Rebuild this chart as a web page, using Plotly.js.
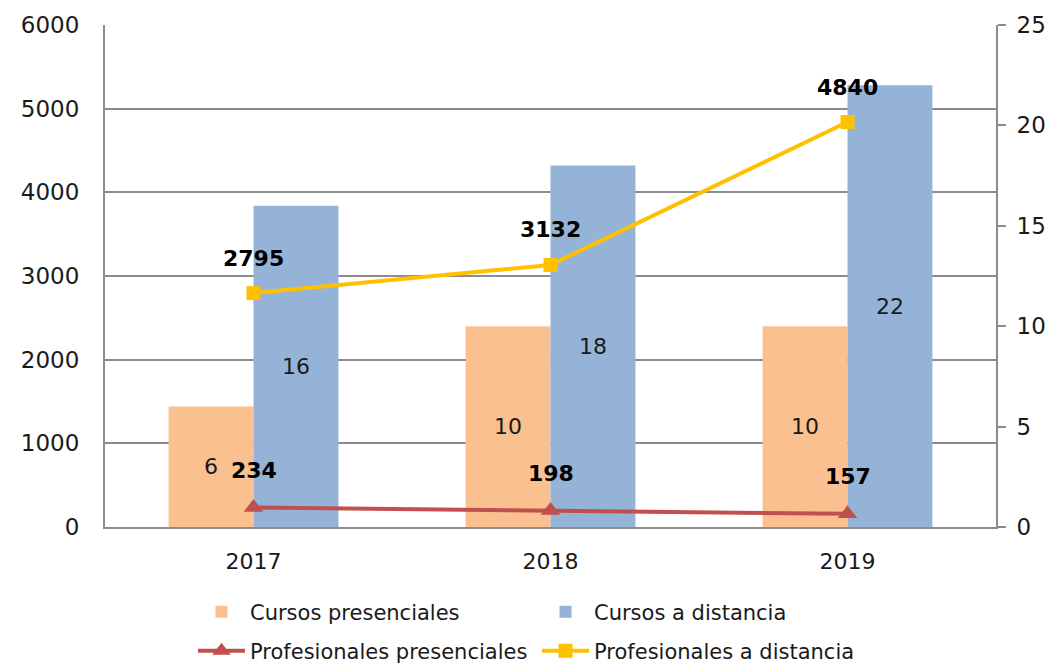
<!DOCTYPE html>
<html>
<head>
<meta charset="utf-8">
<script src="https://cdn.plot.ly/plotly-3.0.1.min.js"></script>
<style>html,body{margin:0;padding:0;background:#fff;}#chart{width:1052px;height:666px;}</style>
</head>
<body>
<div id="chart"></div>
<script>
const years = ['2017', '2018', '2019'];
const cursosPresenciales = [6, 10, 10];
const cursosDistancia = [16, 18, 22];
const profPresenciales = [234, 198, 157];
const profDistancia = [2795, 3132, 4840];

const FONT = 'DejaVu Sans';
const TXT = '#1a1a1a';
const GRID = '#8c8c8c';

const traces = [
  {
    type: 'bar', name: 'Cursos presenciales', x: years, y: cursosPresenciales,
    yaxis: 'y', marker: {color: '#FAC090'},
    text: cursosPresenciales.map(String), textposition: 'inside', insidetextanchor: 'middle',
    textangle: 0, constraintext: 'none', textfont: {family: FONT, size: 22, color: TXT},
    legend: 'legend', hoverinfo: 'none'
  },
  {
    type: 'bar', name: 'Cursos a distancia', x: years, y: cursosDistancia,
    yaxis: 'y', marker: {color: '#95B3D7'},
    text: cursosDistancia.map(String), textposition: 'inside', insidetextanchor: 'middle',
    textangle: 0, constraintext: 'none', textfont: {family: FONT, size: 22, color: TXT},
    legend: 'legend', hoverinfo: 'none'
  },
  {
    type: 'scatter', mode: 'lines+markers', name: 'Profesionales presenciales',
    x: years, y: profPresenciales, yaxis: 'y2',
    line: {color: '#C0504D', width: 4},
    marker: {symbol: 'triangle-up', size: 17, color: '#C0504D'},
    legend: 'legend2', hoverinfo: 'none'
  },
  {
    type: 'scatter', mode: 'lines+markers', name: 'Profesionales a distancia',
    x: years, y: profDistancia, yaxis: 'y2',
    line: {color: '#FFC000', width: 4},
    marker: {symbol: 'square', size: 14, color: '#FFC000'},
    legend: 'legend2', hoverinfo: 'none'
  }
];

const annotations = [];
years.forEach((yr, i) => {
  annotations.push({x: i, y: profPresenciales[i], xref: 'x', yref: 'y2', yshift: 37,
    text: '<b>' + profPresenciales[i] + '</b>', showarrow: false,
    font: {family: FONT, size: 22, color: '#000'}});
  annotations.push({x: i, y: profDistancia[i], xref: 'x', yref: 'y2', yshift: 35,
    text: '<b>' + profDistancia[i] + '</b>', showarrow: false,
    font: {family: FONT, size: 22, color: '#000'}});
});

const legendBase = {
  orientation: 'h', xref: 'container', yref: 'container',
  x: 193 / 1052, xanchor: 'left', yanchor: 'middle',
  itemwidth: 47, entrywidth: 282, entrywidthmode: 'pixels',
  font: {family: FONT, size: 21, color: TXT}, bgcolor: 'rgba(0,0,0,0)'
};

const layout = {
  width: 1052, height: 666,
  margin: {l: 105, r: 56, t: 25, b: 139, pad: 0},
  paper_bgcolor: '#fff', plot_bgcolor: '#fff',
  font: {family: FONT, size: 22, color: TXT},
  barmode: 'group', bargap: 0.428, bargroupgap: 0,
  showlegend: true,
  xaxis: {
    type: 'category', range: [-0.5, 2.5], autorange: false,
    showline: true, linecolor: GRID, linewidth: 2,
    ticks: '', showgrid: false, zeroline: false,
    tickfont: {family: FONT, size: 22, color: TXT}, ticklabelstandoff: 14
  },
  yaxis: {
    side: 'right', range: [0, 25], autorange: false, dtick: 5, showgrid: false, zeroline: false,
    showline: true, linecolor: GRID, linewidth: 2,
    ticks: 'outside', ticklen: 8, tickwidth: 2, tickcolor: GRID,
    tickfont: {family: FONT, size: 23, color: TXT}, ticklabelstandoff: 6
  },
  yaxis2: {
    overlaying: 'y', side: 'left', range: [0, 6000], autorange: false, dtick: 1000,
    showgrid: true, gridcolor: GRID, gridwidth: 2, zeroline: false,
    showline: true, linecolor: GRID, linewidth: 2, ticks: '',
    tickfont: {family: FONT, size: 23, color: TXT}, ticklabelstandoff: 19
  },
  legend: Object.assign({}, legendBase, {y: 1 - 612 / 666}),
  legend2: Object.assign({}, legendBase, {y: 1 - 651 / 666}),
  annotations: annotations
};

Plotly.newPlot('chart', traces, layout, {displayModeBar: false, staticPlot: true});
</script>
</body>
</html>
